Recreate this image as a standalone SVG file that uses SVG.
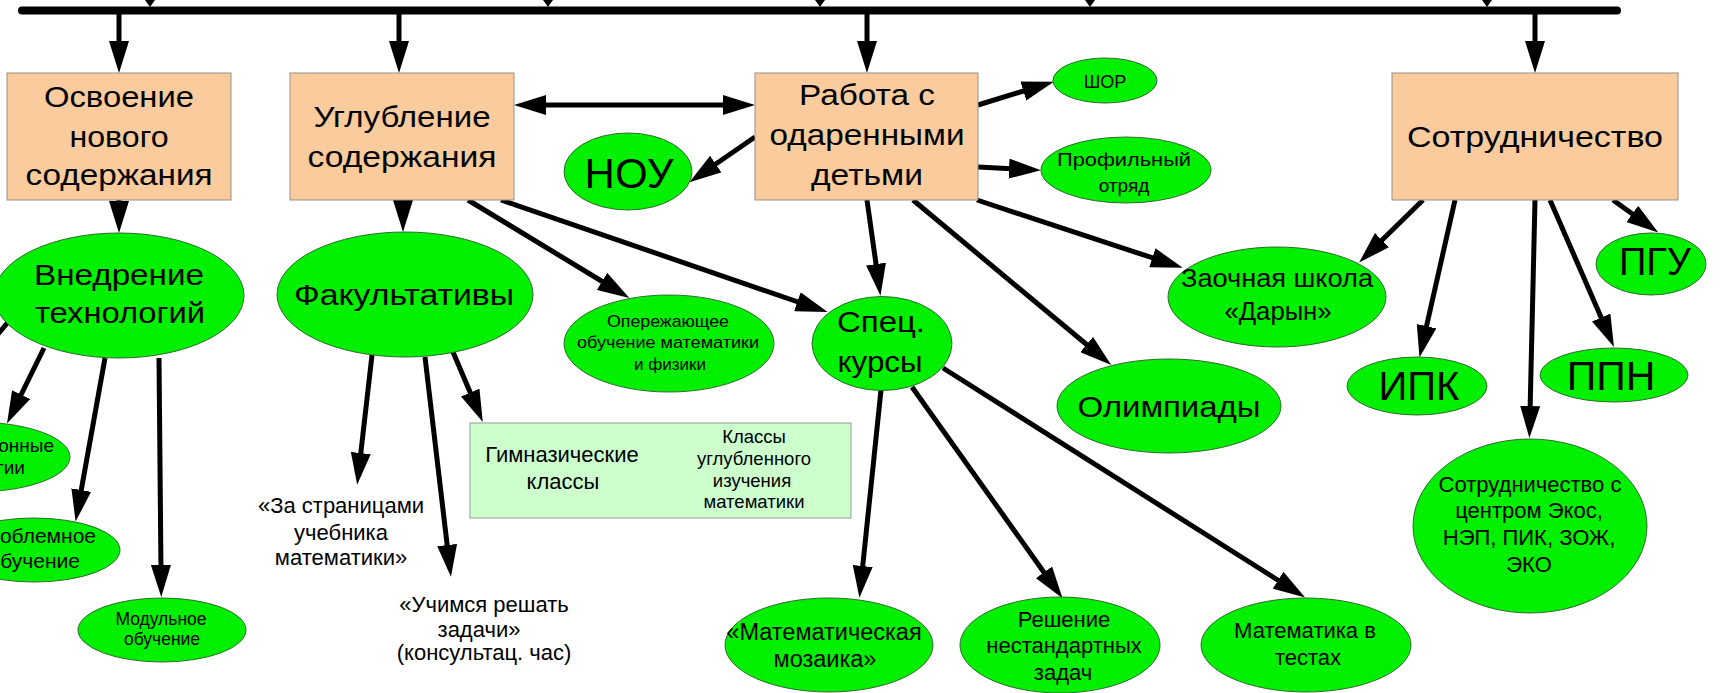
<svg xmlns="http://www.w3.org/2000/svg" width="1727" height="693" viewBox="0 0 1727 693">
<style>
text{font-family:"Liberation Sans",Arial,sans-serif;fill:#000;text-anchor:middle}
.box{fill:#FACB9C;stroke:#9A8F85;stroke-width:1}
.ell{fill:#00F000;stroke:#2F6B2F;stroke-width:1}
.gym{fill:#CCFFCC;stroke:#9A9A9A;stroke-width:1}
.c{stroke:#000;stroke-width:5;fill:none}
.a{stroke:#000;stroke-width:5;fill:none;marker-end:url(#ah)}
.b30{font-size:30px}
.end{text-anchor:end}
</style>
<defs>
<marker id="ah" viewBox="0 0 32 20" refX="7" refY="10" markerWidth="32" markerHeight="20" markerUnits="userSpaceOnUse" orient="auto"><path d="M0,0 L32,10 L0,20 z" fill="#000"/></marker>
<marker id="ah2" viewBox="0 0 32 20" refX="7" refY="10" markerWidth="32" markerHeight="20" markerUnits="userSpaceOnUse" orient="auto-start-reverse"><path d="M0,0 L32,10 L0,20 z" fill="#000"/></marker>
</defs>

<g id="connectors">
<line x1="22" y1="10.5" x2="1617" y2="10.5" stroke="#000" stroke-width="8" stroke-linecap="round"/>
<polygon points="145,0 155,0 150,7"/>
<polygon points="543,0 553,0 548,7"/>
<polygon points="815,0 825,0 820,7"/>
<polygon points="1085,0 1095,0 1090,7"/>
<polygon points="1482,0 1492,0 1487,7"/>
<line class="a" x1="119" y1="14" x2="119" y2="48"/>
<line class="a" x1="399" y1="14" x2="399" y2="48"/>
<line class="a" x1="867" y1="14" x2="867" y2="48"/>
<line class="a" x1="1535" y1="14" x2="1535" y2="48"/>
<line class="a" x1="119" y1="200" x2="119" y2="208"/>
<line class="a" x1="403" y1="200" x2="403" y2="207"/>
<line class="c" x1="539" y1="105" x2="730" y2="105" marker-start="url(#ah2)" marker-end="url(#ah2)"/>
<line class="a" x1="755" y1="137" x2="710" y2="168"/>
<line class="a" x1="978" y1="105" x2="1030" y2="89"/>
<line class="a" x1="978" y1="167" x2="1016" y2="169"/>
<line class="a" x1="867" y1="200" x2="877" y2="271"/>
<line class="a" x1="913" y1="200" x2="1092" y2="349"/>
<line class="a" x1="977" y1="200" x2="1159" y2="260"/>
<line class="a" x1="468" y1="200" x2="608" y2="285"/>
<line class="a" x1="501" y1="200" x2="804" y2="304"/>
<line class="a" x1="44" y1="348" x2="18" y2="401"/>
<line class="c" x1="9" y1="321" x2="-12" y2="346"/>
<line class="a" x1="105" y1="358" x2="80" y2="497"/>
<line class="a" x1="159" y1="358" x2="161" y2="572"/>
<line class="a" x1="372" y1="355" x2="360" y2="460"/>
<line class="a" x1="425" y1="357" x2="448" y2="552"/>
<line class="a" x1="453" y1="352" x2="473" y2="399"/>
<line class="a" x1="881" y1="390" x2="862" y2="573"/>
<line class="a" x1="912" y1="387" x2="1048" y2="578"/>
<line class="a" x1="943" y1="368" x2="1284" y2="584"/>
<line class="a" x1="1423" y1="200" x2="1377" y2="245"/>
<line class="a" x1="1455" y1="200" x2="1425" y2="333"/>
<line class="a" x1="1535" y1="200" x2="1530" y2="413"/>
<line class="a" x1="1550" y1="200" x2="1604" y2="324"/>
<line class="a" x1="1613" y1="200" x2="1638" y2="218"/>
</g>

<g id="osvoenie">
<rect class="box" x="7" y="73" width="224" height="127"/>
<text class="b30" x="119" y="107" textLength="150" lengthAdjust="spacingAndGlyphs">Освоение</text>
<text class="b30" x="119" y="147" textLength="99" lengthAdjust="spacingAndGlyphs">нового</text>
<text class="b30" x="119" y="185" textLength="187" lengthAdjust="spacingAndGlyphs">содержания</text>
</g>
<g id="uglublenie">
<rect class="box" x="290" y="73" width="224" height="127"/>
<text class="b30" x="402" y="127" textLength="177" lengthAdjust="spacingAndGlyphs">Углубление</text>
<text class="b30" x="402" y="167" textLength="189" lengthAdjust="spacingAndGlyphs">содержания</text>
</g>
<g id="rabota">
<rect class="box" x="755" y="73" width="223" height="127"/>
<text class="b30" x="867" y="105" textLength="136" lengthAdjust="spacingAndGlyphs">Работа с</text>
<text class="b30" x="867" y="145" textLength="195" lengthAdjust="spacingAndGlyphs">одаренными</text>
<text class="b30" x="867" y="185" textLength="112" lengthAdjust="spacingAndGlyphs">детьми</text>
</g>
<g id="sotrudnichestvo">
<rect class="box" x="1392" y="73" width="286" height="127"/>
<text class="b30" x="1535" y="147" textLength="256" lengthAdjust="spacingAndGlyphs">Сотрудничество</text>
</g>

<g id="vnedrenie">
<ellipse class="ell" cx="119" cy="295.5" rx="125" ry="62.5"/>
<text class="b30" x="119" y="285" textLength="170" lengthAdjust="spacingAndGlyphs">Внедрение</text>
<text class="b30" x="120" y="323" textLength="170" lengthAdjust="spacingAndGlyphs">технологий</text>
</g>
<g id="fakultativy">
<ellipse class="ell" cx="405" cy="294.5" rx="128" ry="62.5"/>
<text class="b30" x="404" y="305" textLength="220" lengthAdjust="spacingAndGlyphs">Факультативы</text>
</g>
<g id="nou">
<ellipse class="ell" cx="628" cy="171.5" rx="64" ry="38.5"/>
<text x="629" y="188" font-size="42">НОУ</text>
</g>
<g id="shor">
<ellipse class="ell" cx="1105" cy="80.5" rx="52" ry="22.5"/>
<text x="1105" y="88" font-size="18">ШОР</text>
</g>
<g id="profil">
<ellipse class="ell" cx="1126" cy="170" rx="85" ry="33"/>
<text x="1124" y="166" font-size="19" textLength="134" lengthAdjust="spacingAndGlyphs">Профильный</text>
<text x="1124" y="192" font-size="19">отряд</text>
</g>
<g id="operezh">
<ellipse class="ell" cx="669" cy="343.5" rx="105" ry="48.5"/>
<text x="668" y="327" font-size="17" textLength="122" lengthAdjust="spacingAndGlyphs">Опережающее</text>
<text x="668" y="348" font-size="17" textLength="182" lengthAdjust="spacingAndGlyphs">обучение математики</text>
<text x="670" y="370" font-size="17">и физики</text>
</g>
<g id="speckursy">
<ellipse class="ell" cx="882" cy="343.5" rx="70" ry="47"/>
<text class="b30" x="881" y="332" textLength="88" lengthAdjust="spacingAndGlyphs">Спец.</text>
<text class="b30" x="880" y="372" textLength="85" lengthAdjust="spacingAndGlyphs">курсы</text>
</g>
<g id="zaochnaya">
<ellipse class="ell" cx="1277" cy="297" rx="109" ry="50"/>
<text x="1277" y="287" font-size="25" textLength="192" lengthAdjust="spacingAndGlyphs">Заочная школа</text>
<text x="1278" y="320" font-size="25" textLength="107" lengthAdjust="spacingAndGlyphs">«Дарын»</text>
</g>
<g id="olimpiady">
<ellipse class="ell" cx="1169" cy="406" rx="112" ry="47"/>
<text class="b30" x="1169" y="417" textLength="183" lengthAdjust="spacingAndGlyphs">Олимпиады</text>
</g>
<g id="pgu">
<ellipse class="ell" cx="1651" cy="264" rx="55" ry="31"/>
<text x="1655" y="275" font-size="38">ПГУ</text>
</g>
<g id="ipk">
<ellipse class="ell" cx="1417" cy="386" rx="70" ry="29"/>
<text x="1419" y="400" font-size="40">ИПК</text>
</g>
<g id="ppn">
<ellipse class="ell" cx="1614" cy="375" rx="74" ry="27"/>
<text x="1611" y="390" font-size="41">ППН</text>
</g>
<g id="sotr-centr">
<ellipse class="ell" cx="1530" cy="526" rx="117" ry="87"/>
<text x="1530" y="492" font-size="22">Сотрудничество с</text>
<text x="1529" y="518" font-size="22">центром Экос,</text>
<text x="1529" y="545" font-size="22">НЭП, ПИК, ЗОЖ,</text>
<text x="1529" y="572" font-size="22">ЭКО</text>
</g>
<g id="mat-testy">
<ellipse class="ell" cx="1306" cy="645" rx="105" ry="47"/>
<text x="1305" y="638" font-size="22">Математика в</text>
<text x="1308" y="665" font-size="22">тестах</text>
</g>
<g id="reshenie">
<ellipse class="ell" cx="1060" cy="645" rx="100" ry="48"/>
<text x="1064" y="627" font-size="22">Решение</text>
<text x="1064" y="653" font-size="22">нестандартных</text>
<text x="1063" y="680" font-size="22">задач</text>
</g>
<g id="mozaika">
<ellipse class="ell" cx="829" cy="645" rx="104" ry="47"/>
<text x="824" y="640" font-size="23.5">«Математическая</text>
<text x="825" y="667" font-size="23.5">мозаика»</text>
</g>
<g id="modulnoe">
<ellipse class="ell" cx="162" cy="630" rx="84" ry="32"/>
<text x="161" y="625" font-size="17.5">Модульное</text>
<text x="162" y="645" font-size="17.5">обучение</text>
</g>
<g id="problemnoe">
<ellipse class="ell" cx="34" cy="550" rx="86" ry="32"/>
<text class="end" x="96" y="543" font-size="21">облемное</text>
<text class="end" x="80" y="568" font-size="21">бучение</text>
</g>
<g id="informacionnye">
<ellipse class="ell" cx="-25" cy="457" rx="95" ry="35"/>
<text class="end" x="54" y="452" font-size="19">онные</text>
<text class="end" x="25" y="474" font-size="19">гии</text>
</g>
<g id="gimnazia">
<rect class="gym" x="470" y="423" width="381" height="95"/>
<text x="562" y="462" font-size="22">Гимназические</text>
<text x="563" y="489" font-size="22">классы</text>
<text x="754" y="443" font-size="18.5">Классы</text>
<text x="754" y="465" font-size="18.5">углубленного</text>
<text x="752" y="487" font-size="18.5">изучения</text>
<text x="754" y="508" font-size="18.5">математики</text>
</g>
<g id="za-stranicami">
<text x="341" y="513" font-size="22">«За страницами</text>
<text x="341" y="540" font-size="22">учебника</text>
<text x="341" y="565" font-size="22">математики»</text>
</g>
<g id="uchimsya">
<text x="484" y="612" font-size="22">«Учимся решать</text>
<text x="479" y="637" font-size="22">задачи»</text>
<text x="484" y="660" font-size="22">(консультац. час)</text>
</g>
</svg>
